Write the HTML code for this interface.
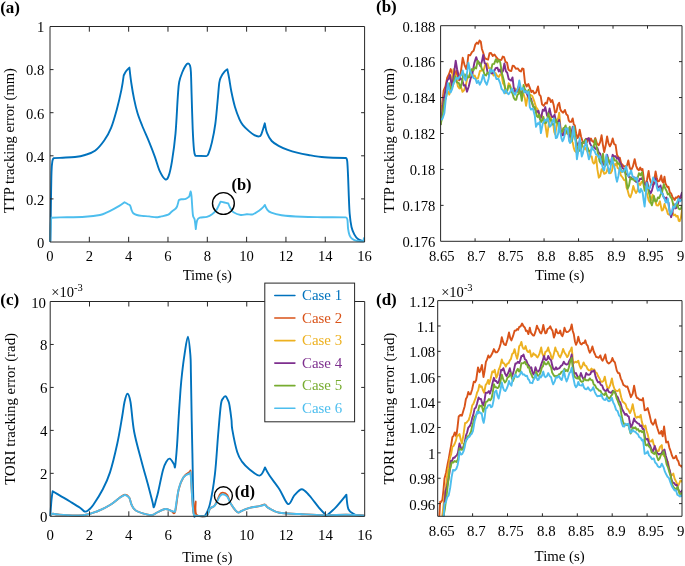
<!DOCTYPE html>
<html><head><meta charset="utf-8"><style>html,body{margin:0;padding:0;background:#fff;overflow:hidden}svg{display:block;will-change:transform}</style></head><body>
<svg width="685" height="566" viewBox="0 0 685 566" style="font-family:'Liberation Serif',serif">
<rect width="685" height="566" fill="#fff"/>
<path d="M50.4 241.6 C50.4 241.6 50.72 216.6 50.9 205 C51.08 193.4 51.25 179.33 51.5 172 C51.75 164.67 52.02 163.32 52.4 161 C52.78 158.68 53.8 158.1 53.8 158.1 C53.8 158.1 59.17 157.88 62.7 157.7 C66.23 157.52 71.28 157.45 75 157 C78.72 156.55 81.67 156.03 85 155 C88.33 153.97 91.8 153.22 95 150.8 C98.2 148.38 101.52 144.33 104.2 140.5 C106.88 136.67 109 132.98 111.1 127.8 C113.2 122.62 115.08 115.72 116.8 109.4 C118.52 103.08 120.25 95.55 121.4 89.9 C122.55 84.25 123.7 75.5 123.7 75.5 C123.7 75.5 125.05 72.52 126 71.2 C126.95 69.88 129.4 67.6 129.4 67.6 C129.4 67.6 130.52 77.75 131.3 83 C132.08 88.25 133.07 94.1 134.1 99.1 C135.13 104.1 136.17 108.6 137.5 113 C138.83 117.4 140.18 120.73 142.1 125.5 C144.02 130.27 146.88 136.42 149 141.6 C151.12 146.78 153.07 151.82 154.8 156.6 C156.53 161.38 157.68 166.53 159.4 170.3 C161.12 174.07 163.57 178.23 165.1 179.2 C166.63 180.17 167.45 179.12 168.6 176.1 C169.75 173.08 170.85 168.18 172 161.1 C173.15 154.02 174.53 144.32 175.5 133.6 C176.47 122.88 177.18 105.4 177.8 96.8 C178.42 88.2 178.43 86.13 179.2 82 C179.97 77.87 181.3 74.77 182.4 72 C183.5 69.23 184.85 66.82 185.8 65.4 C186.75 63.98 187.4 63.48 188.1 63.5 C188.8 63.52 189.53 64.08 190 65.5 C190.47 66.92 190.63 67.17 190.9 72 C191.17 76.83 191.3 85 191.6 94.5 C191.9 104 192.3 119.75 192.7 129 C193.1 138.25 193.57 145.53 194 150 C194.43 154.47 195.3 155.8 195.3 155.8 C195.3 155.8 206.3 156.1 206.3 156.1 C206.3 156.1 207.47 156.18 208.4 153.9 C209.33 151.62 210.75 147.38 211.9 142.4 C213.05 137.42 214.35 130.9 215.3 124 C216.25 117.1 216.93 107.9 217.6 101 C218.27 94.1 218.72 86.63 219.3 82.6 C219.88 78.57 220.23 78.63 221.1 76.8 C221.97 74.97 223.47 72.85 224.5 71.6 C225.53 70.35 227.3 69.3 227.3 69.3 C227.3 69.3 228.42 74.25 229.1 78 C229.78 81.75 230.43 87.02 231.4 91.8 C232.37 96.58 233.55 102.1 234.9 106.7 C236.25 111.3 238.17 116.33 239.5 119.4 C240.83 122.47 241.37 123.18 242.9 125.1 C244.43 127.02 246.78 129.22 248.7 130.9 C250.62 132.58 252.68 134.28 254.4 135.2 C256.12 136.12 257.85 136.55 259 136.4 C260.15 136.25 260.33 136.48 261.3 134.3 C262.27 132.12 264.8 123.3 264.8 123.3 C264.8 123.3 265.95 130.25 267.1 133.2 C268.25 136.15 269.78 138.9 271.7 141 C273.62 143.1 275.92 144.32 278.6 145.8 C281.28 147.28 284.73 148.75 287.8 149.9 C290.87 151.05 293.57 151.85 297 152.7 C300.43 153.55 303.82 154.23 308.4 155 C312.98 155.77 318.25 156.8 324.5 157.3 C330.75 157.8 345.9 158 345.9 158 C345.9 158 346.83 157.83 347.2 161 C347.57 164.17 347.83 171.17 348.1 177 C348.37 182.83 348.53 189.83 348.8 196 C349.07 202.17 349.25 208.83 349.7 214 C350.15 219.17 350.73 223.6 351.5 227 C352.27 230.4 353.22 232.38 354.3 234.4 C355.38 236.42 356.62 238.02 358 239.1 C359.38 240.18 361.5 240.53 362.6 240.9 C363.7 241.27 364.6 241.3 364.6 241.3" fill="none" stroke="#0072BD" stroke-width="1.9" stroke-linejoin="round"/>
<path d="M50.1 241.6 C50.1 241.6 50.4 229.98 50.6 226 C50.8 222.02 51.3 217.7 51.3 217.7 C51.3 217.7 54.38 217.57 60 217.4 C65.62 217.23 78.33 217.1 85 216.7 C91.67 216.3 96.33 215.72 100 215 C103.67 214.28 104.67 213.42 107 212.4 C109.33 211.38 111.95 209.98 114 208.9 C116.05 207.82 117.55 207.02 119.3 205.9 C121.05 204.78 124.5 202.2 124.5 202.2 C124.5 202.2 127.07 203.67 128 204.2 C128.93 204.73 129.52 204.47 130.1 205.4 C130.68 206.33 130.97 208.48 131.5 209.8 C132.03 211.12 132.42 212.43 133.3 213.3 C134.18 214.17 135.35 214.57 136.8 215 C138.25 215.43 139.95 215.67 142 215.9 C144.05 216.13 146.75 216.17 149.1 216.4 C151.45 216.63 154.07 217.3 156.1 217.3 C158.13 217.3 159.27 216.83 161.3 216.4 C163.33 215.97 166.55 215.52 168.3 214.7 C170.05 213.88 170.63 212.47 171.8 211.5 C172.97 210.53 174.42 209.77 175.3 208.9 C176.18 208.03 176.52 207.77 177.1 206.3 C177.68 204.83 178.8 200.1 178.8 200.1 C178.8 200.1 180.33 199.5 181.5 199.3 C182.67 199.1 184.5 199.35 185.8 198.9 C187.1 198.45 189.3 196.6 189.3 196.6 C189.3 196.6 190.6 191.4 190.6 191.4 C190.6 191.4 191.12 192.07 191.5 196 C191.88 199.93 192.38 211.1 192.9 215 C193.42 218.9 194.12 217.05 194.6 219.4 C195.08 221.75 195.8 229.1 195.8 229.1 C195.8 229.1 196.52 222.2 197.2 220.3 C197.88 218.4 198.28 218.28 199.9 217.7 C201.52 217.12 204.87 217.38 206.9 216.8 C208.93 216.22 210.5 215.37 212.1 214.2 C213.7 213.03 215.48 211.07 216.5 209.8 C217.52 208.53 217.52 207.97 218.2 206.6 C218.88 205.23 220.6 201.6 220.6 201.6 C220.6 201.6 223.02 202.18 224.3 202.5 C225.58 202.82 228.3 203.5 228.3 203.5 C228.3 203.5 229.53 206.73 230.4 208.2 C231.27 209.67 231.78 211.17 233.5 212.3 C235.22 213.43 238.48 214.67 240.7 215 C242.92 215.33 244.77 214.42 246.8 214.3 C248.83 214.18 250.87 214.9 252.9 214.3 C254.93 213.7 257.37 211.82 259 210.7 C260.63 209.58 261.73 208.57 262.7 207.6 C263.67 206.63 264.8 204.9 264.8 204.9 C264.8 204.9 266.12 208.3 267.2 209.6 C268.28 210.9 268.92 211.77 271.3 212.7 C273.68 213.63 276.38 214.52 281.5 215.2 C286.62 215.88 295.18 216.47 302 216.8 C308.82 217.13 315.08 217.1 322.4 217.2 C329.72 217.3 345.9 217.4 345.9 217.4 C345.9 217.4 347.03 217.68 347.4 219.6 C347.77 221.52 347.73 226.27 348.1 228.9 C348.47 231.53 348.88 233.7 349.6 235.4 C350.32 237.1 351.17 238.18 352.4 239.1 C353.63 240.02 355.18 240.55 357 240.9 C358.82 241.25 363.3 241.2 363.3 241.2 C363.3 241.2 364.1 237.5 364.1 237.5" fill="none" stroke="#4DBEEE" stroke-width="1.9" stroke-linejoin="round"/>
<path d="M50 26.5 H364.6 V242 H50 Z" fill="none" stroke="#262626" stroke-width="1"/>
<path d="M89.33 242 v-5.2 M89.33 26.5 v5.2 M128.65 242 v-5.2 M128.65 26.5 v5.2 M167.98 242 v-5.2 M167.98 26.5 v5.2 M207.3 242 v-5.2 M207.3 26.5 v5.2 M246.62 242 v-5.2 M246.62 26.5 v5.2 M285.95 242 v-5.2 M285.95 26.5 v5.2 M325.28 242 v-5.2 M325.28 26.5 v5.2 M50 198.9 h3.5 M364.6 198.9 h-3.5 M50 155.8 h3.5 M364.6 155.8 h-3.5 M50 112.7 h3.5 M364.6 112.7 h-3.5 M50 69.6 h3.5 M364.6 69.6 h-3.5" stroke="#262626" stroke-width="1" fill="none"/>
<text x="50" y="260.7" font-size="14.6" text-anchor="middle" fill="#000">0</text>
<text x="89.33" y="260.7" font-size="14.6" text-anchor="middle" fill="#000">2</text>
<text x="128.65" y="260.7" font-size="14.6" text-anchor="middle" fill="#000">4</text>
<text x="167.98" y="260.7" font-size="14.6" text-anchor="middle" fill="#000">6</text>
<text x="207.3" y="260.7" font-size="14.6" text-anchor="middle" fill="#000">8</text>
<text x="246.62" y="260.7" font-size="14.6" text-anchor="middle" fill="#000">10</text>
<text x="285.95" y="260.7" font-size="14.6" text-anchor="middle" fill="#000">12</text>
<text x="325.28" y="260.7" font-size="14.6" text-anchor="middle" fill="#000">14</text>
<text x="364.6" y="260.7" font-size="14.6" text-anchor="middle" fill="#000">16</text>
<text x="44.3" y="247.8" font-size="14.6" text-anchor="end" fill="#000">0</text>
<text x="44.3" y="204.7" font-size="14.6" text-anchor="end" fill="#000">0.2</text>
<text x="44.3" y="161.6" font-size="14.6" text-anchor="end" fill="#000">0.4</text>
<text x="44.3" y="118.5" font-size="14.6" text-anchor="end" fill="#000">0.6</text>
<text x="44.3" y="75.4" font-size="14.6" text-anchor="end" fill="#000">0.8</text>
<text x="44.3" y="32.3" font-size="14.6" text-anchor="end" fill="#000">1</text>
<text x="207.3" y="279.5" font-size="14.6" text-anchor="middle" fill="#000">Time (s)</text>
<text x="0" y="0" font-size="14.6" text-anchor="middle" fill="#000" transform="translate(14.3 140.5) rotate(-90)">TTP tracking error (mm)</text>
<text x="0.2" y="12.6" font-size="17" text-anchor="start" font-weight="bold" fill="#000">(a)</text>
<circle cx="223.4" cy="203.5" r="10.9" fill="none" stroke="#000" stroke-width="1.4"/>
<text x="231.4" y="189.6" font-size="16.5" text-anchor="start" font-weight="bold" fill="#000">(b)</text>
<clipPath id="cb"><rect x="440.6" y="25.7" width="241.39999999999998" height="215.60000000000002"/></clipPath>
<g clip-path="url(#cb)" fill="none" stroke-width="1.9" stroke-linejoin="round">
<path d="M440.6 114 L442.15 104.67 L443.7 90.3 L445.45 86.46 L447.2 77.6 L448.95 74.23 L450.7 69.1 L452.1 72.88 L453.5 74.8 L454.95 74.95 L456.4 70.5 L457.8 77.57 L459.2 80.4 L460.95 71.1 L462.7 57.8 L464.5 64.79 L466.3 69.1 L467.35 63.93 L468.4 55 L470.2 55.38 L472 52 L473.63 50.7 L475.27 44.67 L476.9 42.6 L478.2 43.86 L479.5 40.5 L480.8 41.7 L481.9 48.95 L483 52 L484.8 58.19 L486.6 59.2 L488.07 59.64 L489.53 53.3 L491 53 L492.77 55.99 L494.53 54.53 L496.3 57.2 L498.15 59.45 L500 60 L501.37 59.9 L502.73 56.51 L504.1 57.2 L505.55 61.96 L507 62.53 L508.45 69.8 L509.9 70.8 L511.27 70.94 L512.63 65.8 L514 66 L515.87 68.81 L517.73 68.38 L519.6 70.8 L520.9 71.51 L522.2 68.44 L523.5 68.8 L525 83 L526.67 86.48 L528.33 83.94 L530 88.3 L531.43 92.04 L532.87 90.66 L534.3 93.5 L536.15 92.41 L538 86.5 L539.33 94.63 L540.67 96.18 L542 104.2 L543.75 105.88 L545.5 102.7 L546.87 103.5 L548.23 97.75 L549.6 98.6 L550.93 102.06 L552.27 100.1 L553.6 104.7 L555 112.7 L556.4 111.93 L557.8 105.03 L559.2 102.8 L560.3 109.2 L561.4 111.3 L563.15 112.68 L564.9 109.9 L566.3 114.32 L567.7 115.5 L568.75 120.45 L569.8 121.9 L571.25 121.82 L572.7 118.4 L573.75 124.36 L574.8 125.4 L576.2 133.44 L577.6 138.1 L578.65 136.19 L579.7 129.7 L581.1 136.77 L582.5 141 L584.3 143.39 L586.1 141 L587.15 142.07 L588.2 138.3 L589.57 140.92 L590.93 138.49 L592.3 141.3 L593.8 142.16 L595.3 138.1 L597.05 143.75 L598.8 145.2 L600.2 141.92 L601.6 135.3 L602.9 144.83 L604.2 152 L605.65 145.57 L607.1 136.4 L608.5 143.4 L609.9 146.3 L611.3 143.48 L612.7 138.5 L614.15 144.13 L615.6 144.9 L617 154.8 L618.4 157.47 L619.8 157.6 L621.2 163.59 L622.6 164.7 L624.05 166.74 L625.5 166.1 L626.9 165.82 L628.3 160.5 L629.7 167.52 L631.1 170.4 L632.9 166.45 L634.7 159.1 L636.1 165.77 L637.5 169 L638.9 170.22 L640.3 167.5 L641.4 170.1 L642.5 169 L643.9 179.25 L645.3 186.8 L646.95 180.01 L648.6 170.9 L649.6 177.91 L650.6 181.5 L651.9 184.63 L653.2 182.8 L654.4 179.06 L655.6 171.5 L656.75 177.42 L657.9 181.5 L659.55 180.77 L661.2 175.5 L662.2 181.25 L663.2 182.8 L664.5 176.8 L665.5 183.53 L666.5 185.4 L667.5 187.23 L668.5 186.8 L669.8 192.24 L671.1 193.4 L672.4 196.94 L673.7 198.7 L674.7 200.02 L675.7 197.4 L677.05 197.98 L678.4 196 L680.25 197.89 L682.1 197.4" stroke="#D95319"/>
<path d="M440.6 118 L442.1 109.98 L443.6 97.76 L445.1 90.3 L446.5 93.19 L447.9 91.29 L449.3 94.6 L450.7 88.02 L452.1 76.7 L453.5 69.1 L454.93 75.57 L456.37 78.13 L457.8 86.1 L459.38 88.4 L460.95 86.99 L462.53 91.84 L464.1 90.3 L465.9 84.89 L467.7 76.2 L469.1 77.1 L470.5 71.75 L471.9 72 L473.33 76.28 L474.77 75.61 L476.2 79 L478.07 78.1 L479.93 70.97 L481.8 70.5 L483.7 69.9 L485.6 63.7 L487.5 63.5 L488.9 68.34 L490.3 68.27 L491.7 72 L493.6 75.56 L495.5 72.94 L497.4 76.2 L498.8 77.06 L500.2 74.43 L501.6 74.8 L503 83.29 L504.4 85.43 L505.8 93.2 L507.25 90.34 L508.7 83.3 L510 84.9 L511.25 90.03 L512.5 90.4 L514.05 91.58 L515.6 88.6 L517.4 92.3 L518.65 92.26 L519.9 87.3 L521.45 91.3 L523 92.3 L524.9 98.5 L526.1 105.9 L527.9 94.8 L529.15 97.04 L530.4 94.8 L532.3 96 L534.1 100.9 L536 107.1 L537.8 109.6 L538.75 115.54 L539.7 118.3 L541.6 114.6 L543.4 118.3 L545.3 124.5 L547.1 136.8 L549 122 L550.8 117 L552.05 123.23 L553.3 124.5 L554.25 131.83 L555.2 134.4 L557.1 122.6 L558.15 118.61 L559.2 112.7 L560.3 125.03 L561.4 135.3 L562.45 132.92 L563.5 128.2 L564.55 133.59 L565.6 133.9 L567 132.62 L568.4 128.2 L569.8 136.52 L571.2 141 L572.7 142.4 L573.75 147.93 L574.8 150.8 L576.55 152.5 L578.3 150.8 L579.7 148.08 L581.1 142.4 L582.15 145.92 L583.2 146.6 L584.3 149.14 L585.4 148 L587.15 151.24 L588.9 150.8 L590.3 156.08 L591.7 156.5 L592.75 162.07 L593.8 163.6 L594.9 162.52 L596 156.5 L597.4 169.44 L598.8 177.7 L600.2 176.03 L601.6 169.2 L602.8 170.4 L604.25 173.8 L605.7 173.2 L606.75 171.43 L607.8 167.5 L609.2 172.7 L610.6 173.2 L612 170.79 L613.4 163.3 L614.85 165.73 L616.3 163.3 L617.7 167.97 L619.1 169 L620.85 175.33 L622.6 177.5 L624.05 180.06 L625.5 180.3 L626.55 187.54 L627.6 190.2 L629 195.57 L630.4 197.3 L631.85 192.95 L633.3 186 L634.7 190.4 L636.1 193 L637.5 190.38 L638.9 183.1 L640.3 184.98 L641.7 181.7 L642.85 182.54 L644 181.5 L645.65 190.34 L647.3 194.7 L648.6 200.18 L649.9 202.6 L651.25 199.7 L652.6 194.7 L653.6 198.01 L654.6 198.7 L656.5 205.3 L658.2 205.48 L659.9 201.3 L661.8 210.6 L663.15 209.67 L664.5 204 L665.5 207.51 L666.5 209.3 L667.8 213.85 L669.1 214.6 L670.75 214.11 L672.4 211.9 L673.75 215.34 L675.1 214.6 L676.4 216.63 L677.7 215.9 L678.7 220.93 L679.7 221.2 L680.9 217.81 L682.1 209.3" stroke="#EDB120"/>
<path d="M440.6 125 L442.15 113.11 L443.7 98.8 L445.45 90.57 L447.2 80.4 L448.6 79.1 L450 74.8 L451.05 81.51 L452.1 86.1 L453.9 74.3 L455.7 60.7 L457.1 69.26 L458.5 74.8 L460.25 79.35 L462 79 L463.67 85.47 L465.33 85.29 L467 91.7 L468.75 86.53 L470.5 79 L472.4 73.46 L474.3 63.12 L476.2 57.1 L477.6 61.26 L479 62.26 L480.4 66.3 L481.8 61.82 L483.2 55 L484.63 63.13 L486.07 64.04 L487.5 72 L488.9 74.71 L490.3 70.7 L491.7 73.4 L493.6 72.63 L495.5 68.26 L497.4 67.7 L498.8 71.52 L500.2 69.39 L501.6 73.4 L503 70.79 L504.4 63.5 L505.83 71.05 L507.27 72.9 L508.7 79 L510 79.9 L511.25 80.53 L512.5 77.4 L513.7 87.3 L515.6 92.3 L517.15 91.2 L518.7 86.1 L519.9 91.5 L521.1 93.5 L522.35 92.15 L523.6 88.6 L525.5 91 L527.3 94.8 L529.15 98.29 L531 98.5 L532.9 105.9 L534.8 108.4 L536.6 112.1 L538.5 110.8 L540.3 119.5 L541.55 115.49 L542.8 109.6 L544.05 110.83 L545.3 107.1 L547.1 115.8 L548.35 114.46 L549.6 108.4 L550.85 114.48 L552.1 117 L553.35 117.13 L554.6 114.6 L555.8 120.73 L557 122 L558.1 122.72 L559.2 119.8 L560.65 129.94 L562.1 135.3 L563.5 134.82 L564.9 129.7 L566.3 131.41 L567.7 129.7 L568.75 134.73 L569.8 136.7 L571.25 133.62 L572.7 126.8 L574.1 134.01 L575.5 138.1 L576.55 142.72 L577.6 145.2 L578.65 144.44 L579.7 141 L581.45 143.96 L583.2 142.4 L584.65 141.46 L586.1 138.8 L587.5 139.31 L588.9 138.1 L589.95 143.57 L591 145.2 L592.4 147.19 L593.8 146.6 L595.6 149.05 L597.4 148 L598.8 152.49 L600.2 153.7 L601.85 160.6 L603.5 164.7 L605.3 162.35 L607.1 154.8 L608.5 160.19 L609.9 163.3 L611.3 160.58 L612.7 154.8 L614.15 156.65 L615.6 156.2 L617 158.83 L618.4 157.6 L619.8 162.43 L621.2 164.7 L622.65 168.28 L624.1 169 L625.85 173.94 L627.6 174.6 L629.35 177.41 L631.1 177.5 L632.9 179.3 L634.7 177.5 L636.1 182.03 L637.5 181.7 L638.75 181.21 L640 178.8 L641.3 179.04 L642.6 177.5 L643.6 182 L644.6 184.1 L645.95 185.27 L647.3 182.1 L648.95 189.65 L650.6 193.4 L651.9 190.61 L653.2 185.4 L654.4 183.18 L655.6 178.2 L656.75 183.6 L657.9 186.8 L659.2 187.72 L660.5 185.4 L661.85 191.56 L663.2 196 L664.85 198.75 L666.5 197.4 L667.5 202.41 L668.5 202.6 L669.8 212.42 L671.1 217.2 L672.4 212.72 L673.7 204 L675.05 208.48 L676.4 207.9 L677.7 204.76 L679 200 L680.55 197.31 L682.1 192" stroke="#7E2F8E"/>
<path d="M440.6 125 L442.5 115.21 L444.4 101.6 L446.03 97.63 L447.67 87.17 L449.3 83.3 L450.35 88.6 L451.4 88.9 L453.2 84.68 L455 76.2 L456.87 82.43 L458.73 82.9 L460.6 87.5 L462 82.08 L463.4 73.4 L464.83 77.3 L466.27 74.24 L467.7 77.6 L469.1 77.19 L470.5 70.95 L471.9 69.1 L473.33 70.5 L474.77 67.4 L476.2 68.4 L477.6 60.7 L479 63.87 L480.4 63.5 L481.8 69.09 L483.2 70.23 L484.6 74.8 L486.03 75.51 L487.47 72.58 L488.9 73.4 L490.65 72.3 L492.4 64.13 L494.15 63.82 L495.9 59.2 L497.33 62.4 L498.77 60.1 L500.2 62.1 L502.07 73.87 L503.93 80.82 L505.8 91.7 L507.2 90.62 L508.6 85.6 L510 86.1 L511.25 90.96 L512.5 93.5 L513.75 97.77 L515 99.7 L516.2 99.82 L517.4 94.8 L518.65 94.07 L519.9 88.6 L521.8 100.9 L523.6 84.9 L524.85 89.26 L526.1 91 L527.35 92.93 L528.6 89.8 L530.4 99.7 L532.3 103.4 L533.55 107.01 L534.8 107.1 L536.6 115.8 L537.85 117.21 L539.1 114.6 L540.9 122 L542.15 120.65 L543.4 117 L544.65 122.59 L545.9 123.2 L547.15 120.29 L548.4 113.3 L549.6 118.94 L550.8 119.5 L552.05 124.41 L553.3 124.5 L554.55 123.32 L555.8 119.5 L556.8 122.49 L557.8 122.6 L559.2 128.63 L560.6 132.5 L562.05 131.4 L563.5 128.2 L564.55 127.7 L565.6 125.4 L566.65 130.98 L567.7 133.9 L568.75 132.23 L569.8 126.8 L570.9 134.69 L572 141 L573.05 135.91 L574.1 126.8 L575.5 138.09 L576.9 146.6 L578.3 150.04 L579.7 150.8 L581.1 148.87 L582.5 142.4 L583.95 142.6 L585.4 139.5 L587.15 146.5 L588.9 150.8 L590.65 151.06 L592.4 148 L593.85 145.81 L595.3 139.5 L596.7 147.48 L598.1 153.7 L599.5 161.2 L600.9 163.6 L601.95 159.47 L603 153.7 L604 162.04 L605 166.1 L606.4 164.17 L607.8 157.6 L609.2 161.96 L610.6 164.7 L612 163.36 L613.4 157.6 L614.85 160.5 L616.3 160.5 L617.7 163.73 L619.1 163.3 L620.5 168.35 L621.9 171.8 L623.35 171.27 L624.8 169 L626.2 180.01 L627.6 188.8 L629 185.67 L630.4 177.5 L631.85 179.34 L633.3 178.9 L634.7 181.06 L636.1 178.9 L637.5 178.52 L638.9 173.2 L640.45 175.19 L642 172.2 L643.3 182.86 L644.6 190.7 L645.95 188.83 L647.3 184.1 L648.6 191.78 L649.9 196 L650.9 202.84 L651.9 205.3 L652.9 201.63 L653.9 196 L655.2 201.3 L656.55 201.49 L657.9 197.4 L659.2 198.28 L660.5 194.7 L662.15 191.74 L663.8 184.1 L665.15 188.25 L666.5 190.7 L667.8 194.55 L669.1 193.4 L670.45 197 L671.8 198.7 L673.1 204.05 L674.4 206.6 L675.75 206.49 L677.1 202.6 L678.4 208.4 L679.7 209.3 L680.9 208.7 L682.1 205.3" stroke="#77AC30"/>
<path d="M440.6 120 L442.5 118.72 L444.4 113 L445.8 98.8 L446.85 93.33 L447.9 83.3 L449.3 89.56 L450.7 92.5 L452.1 89.16 L453.5 83.3 L454.95 81.23 L456.4 77.6 L458.15 78.89 L459.9 76.2 L461.3 74.99 L462.7 70.5 L464.15 77.61 L465.6 80.4 L467 73.06 L468.4 62.8 L470.15 70.98 L471.9 74.8 L473.7 78.18 L475.5 79 L476.9 83.14 L478.3 80.69 L479.7 84.7 L481.45 81.28 L483.2 74.8 L485 81.51 L486.8 84.7 L488.55 78.92 L490.3 69.1 L491.7 71.66 L493.1 70.18 L494.5 73.4 L496.4 78.95 L498.3 78.74 L500.2 83.3 L501.6 89.04 L503 90.3 L504.43 93.29 L505.87 89.92 L507.3 93.2 L508.65 94.14 L510 92.3 L511.9 88.6 L513.45 92.65 L515 94.8 L516.8 91 L518.05 87.99 L519.3 80.5 L521.1 89.8 L523 87.9 L524.2 92.3 L526.1 91 L527.35 93.59 L528.6 91.7 L529.8 107.1 L531 109.6 L532.9 108.4 L534.8 115.8 L536 126.9 L537.8 123.2 L538.75 124.19 L539.7 122 L540.9 133.1 L542.8 123.2 L543.75 122.3 L544.7 119.5 L546.5 120.7 L547.7 118.3 L549.6 126.9 L550.85 125.59 L552.1 122 L553.9 118.3 L555.8 138.1 L557.05 137.54 L558.3 133.1 L559.2 122.6 L560.3 131.66 L561.4 138.1 L562.45 141.31 L563.5 139.5 L564.55 135.7 L565.6 128.2 L566.65 129.35 L567.7 128.2 L569.1 141 L570.15 142.97 L571.2 141 L572.3 135.34 L573.4 126.8 L574.45 136.38 L575.5 141 L576.9 159.3 L578.3 151.14 L579.7 138.1 L580.75 149.02 L581.8 156.5 L582.9 153.5 L584 146.6 L585.05 145.85 L586.1 141 L587.5 152.4 L588.9 159.3 L590.3 155.51 L591.7 146.6 L593.1 149.53 L594.5 150.8 L595.95 154.39 L597.4 155.1 L598.7 157.53 L600 156.2 L601.05 161.78 L602.1 164.7 L603.15 169.4 L604.2 170.4 L605.3 163.54 L606.4 154.8 L607.8 166.38 L609.2 173.2 L610.6 167.14 L612 157.6 L613.45 164.29 L614.9 169 L615.95 177.34 L617 181.7 L618.4 175.95 L619.8 167.5 L621.2 170.79 L622.6 171.8 L624.4 170.61 L626.2 166.1 L627.25 172.08 L628.3 176 L629.7 174.36 L631.1 170.4 L632.55 176.31 L634 177.5 L635.4 179.55 L636.8 177.5 L637.85 185.35 L638.9 191.6 L639.95 192.4 L641 188.8 L642.6 192.1 L643.6 200.16 L644.6 206.6 L645.6 196.09 L646.6 182.8 L647.6 187.88 L648.6 188.1 L649.6 188.66 L650.6 185.4 L651.9 182.79 L653.2 177.5 L654.55 180.97 L655.9 181.5 L656.9 187.59 L657.9 190.7 L658.9 190.41 L659.9 188.1 L661.2 193.35 L662.5 193.4 L663.5 196.93 L664.5 198.7 L665.8 202.6 L666.8 202.2 L667.8 198.7 L669.1 208.79 L670.4 214.6 L671.75 212.1 L673.1 206.6 L674.4 207.87 L675.7 204 L677.05 202.58 L678.4 198.7 L680.25 201.26 L682.1 198.7" stroke="#4DBEEE"/>
</g>
<path d="M440.6 25.7 H682 V241.3 H440.6 Z" fill="none" stroke="#262626" stroke-width="1"/>
<path d="M475.09 241.3 v-3 M475.09 25.7 v3 M509.57 241.3 v-3 M509.57 25.7 v3 M544.06 241.3 v-3 M544.06 25.7 v3 M578.54 241.3 v-3 M578.54 25.7 v3 M613.03 241.3 v-3 M613.03 25.7 v3 M647.51 241.3 v-3 M647.51 25.7 v3 M440.6 205.37 h3 M682 205.37 h-3 M440.6 169.43 h3 M682 169.43 h-3 M440.6 133.5 h3 M682 133.5 h-3 M440.6 97.57 h3 M682 97.57 h-3 M440.6 61.63 h3 M682 61.63 h-3" stroke="#262626" stroke-width="1" fill="none"/>
<text x="441.8" y="260.7" font-size="14.6" text-anchor="middle" fill="#000">8.65</text>
<text x="476.35" y="260.7" font-size="14.6" text-anchor="middle" fill="#000">8.7</text>
<text x="510.75" y="260.7" font-size="14.6" text-anchor="middle" fill="#000">8.75</text>
<text x="546.35" y="260.7" font-size="14.6" text-anchor="middle" fill="#000">8.8</text>
<text x="581.1" y="260.7" font-size="14.6" text-anchor="middle" fill="#000">8.85</text>
<text x="616.4" y="260.7" font-size="14.6" text-anchor="middle" fill="#000">8.9</text>
<text x="650.9" y="260.7" font-size="14.6" text-anchor="middle" fill="#000">8.95</text>
<text x="680.6" y="260.7" font-size="14.6" text-anchor="middle" fill="#000">9</text>
<text x="435.3" y="247.1" font-size="14.6" text-anchor="end" fill="#000">0.176</text>
<text x="435.3" y="211.17" font-size="14.6" text-anchor="end" fill="#000">0.178</text>
<text x="435.3" y="175.23" font-size="14.6" text-anchor="end" fill="#000">0.18</text>
<text x="435.3" y="139.3" font-size="14.6" text-anchor="end" fill="#000">0.182</text>
<text x="435.3" y="103.37" font-size="14.6" text-anchor="end" fill="#000">0.184</text>
<text x="435.3" y="67.43" font-size="14.6" text-anchor="end" fill="#000">0.186</text>
<text x="435.3" y="31.5" font-size="14.6" text-anchor="end" fill="#000">0.188</text>
<text x="559.7" y="279.7" font-size="14.6" text-anchor="middle" fill="#000">Time (s)</text>
<text x="0" y="0" font-size="14.6" text-anchor="middle" fill="#000" transform="translate(393.9 140.5) rotate(-90)">TTP tracking error (mm)</text>
<text x="376" y="12.4" font-size="17" text-anchor="start" font-weight="bold" fill="#000">(b)</text>
<path d="M50.3 516 C50.3 516 51.1 504.13 51.5 500 C51.9 495.87 52.7 491.2 52.7 491.2 C52.7 491.2 57.12 493.88 60 495.6 C62.88 497.32 66.67 499.48 70 501.5 C73.33 503.52 77.55 506.03 80 507.7 C82.45 509.37 83.37 511.03 84.7 511.5 C86.03 511.97 86.58 511.58 88 510.5 C89.42 509.42 90.73 508.53 93.2 505 C95.67 501.47 100 494.73 102.8 489.3 C105.6 483.87 107.58 480.03 110 472.4 C112.42 464.77 115.28 452.73 117.3 443.5 C119.32 434.27 120.9 423.92 122.1 417 C123.3 410.08 123.62 405.88 124.5 402 C125.38 398.12 126.4 393.7 127.4 393.7 C128.4 393.7 129.38 395.7 130.5 402 C131.62 408.3 132.3 421.77 134.1 431.5 C135.9 441.23 138.88 451.17 141.3 460.4 C143.72 469.63 146.73 479.97 148.6 486.9 C150.47 493.83 151.62 498.62 152.5 502 C153.38 505.38 153.32 507.53 153.9 507.2 C154.48 506.87 155.28 502.58 156 500 C156.72 497.42 157.03 496.7 158.2 491.7 C159.37 486.7 161.62 475.03 163 470 C164.38 464.97 165.37 463.38 166.5 461.5 C167.63 459.62 168.57 458.28 169.8 458.7 C171.03 459.12 173.02 462.7 173.9 464 C174.78 465.3 174.58 469.5 175.1 466.5 C175.62 463.5 176.4 454.25 177 446 C177.6 437.75 178.12 426.33 178.7 417 C179.28 407.67 179.93 397.33 180.5 390 C181.07 382.67 181.45 378.78 182.1 373 C182.75 367.22 183.43 361.33 184.4 355.3 C185.37 349.27 186.9 336.8 187.9 336.8 C188.9 336.8 189.9 349.27 190.4 355.3 C190.9 361.33 190.68 362.22 190.9 373 C191.12 383.78 191.45 406.63 191.7 420 C191.95 433.37 192.08 438.2 192.4 453.2 C192.72 468.2 193.17 499.55 193.6 510 C194.03 520.45 195 515.9 195 515.9 C195 515.9 205 515.9 205 515.9 C205 515.9 208.25 511.03 209.9 504.1 C211.55 497.17 213.53 485.82 214.9 474.3 C216.27 462.78 217.1 446.6 218.1 435 C219.1 423.4 220.08 410.78 220.9 404.7 C221.72 398.62 222.2 399.9 223 398.5 C223.8 397.1 224.78 395.8 225.7 396.3 C226.62 396.8 227.85 399.88 228.5 401.5 C229.15 403.12 229.1 402.92 229.6 406 C230.1 409.08 231.05 416.07 231.5 420 C231.95 423.93 231.35 424.27 232.3 429.6 C233.25 434.93 235.55 446.62 237.2 452 C238.85 457.38 240.13 459 242.2 461.9 C244.27 464.8 246.7 467.12 249.6 469.4 C252.5 471.68 257.03 475.93 259.6 475.6 C262.17 475.27 265 467.4 265 467.4 C265 467.4 267.1 471.97 269.5 475.6 C271.9 479.23 276.3 484.45 279.4 489.2 C282.5 493.95 285.62 503.07 288.1 504.1 C290.58 505.13 292.02 497.88 294.3 495.4 C296.58 492.92 299.32 489.2 301.8 489.2 C304.28 489.2 306.32 492.3 309.2 495.4 C312.08 498.5 316.2 504.4 319.1 507.8 C322 511.2 326.6 515.8 326.6 515.8 C326.6 515.8 333.2 510.12 336.5 506.6 C339.8 503.08 346.4 494.7 346.4 494.7 C346.4 494.7 347.15 505.88 348.4 509.1 C349.65 512.32 352.3 512.97 353.9 514 C355.5 515.03 356.23 515 358 515.3 C359.77 515.6 364.5 515.8 364.5 515.8" fill="none" stroke="#0072BD" stroke-width="1.9" stroke-linejoin="round"/>
<path d="M50.3 516 C50.3 516 51.03 514.57 51.5 514.2 C51.97 513.83 51.77 513.73 53.1 513.8 C54.43 513.87 54.43 514.35 59.5 514.6 C64.57 514.85 77.08 515.9 83.5 515.3 C89.92 514.7 93.58 512.72 98 511 C102.42 509.28 106.38 507.22 110 505 C113.62 502.78 117.2 499.4 119.7 497.7 C122.2 496 123.4 494.8 125 494.8 C126.6 494.8 128.18 496 129.3 497.7 C130.42 499.4 130.5 502.78 131.7 505 C132.9 507.22 133.28 509.32 136.5 511 C139.72 512.68 147.42 514.93 151 515.1 C154.58 515.27 155.6 513.02 158 512 C160.4 510.98 163.17 509.17 165.4 509 C167.63 508.83 169.78 510.55 171.4 511 C173.02 511.45 173.88 515.32 175.1 511.7 C176.32 508.08 177.3 495.03 178.7 489.3 C180.1 483.57 181.7 480.17 183.5 477.3 C185.3 474.43 188.3 472.77 189.5 472.1 C190.7 471.43 190.22 468.43 190.7 473.3 C191.18 478.17 191.88 494.42 192.4 501.3 C192.92 508.18 193.27 514.57 193.8 514.6 C194.33 514.63 195.18 501.52 195.6 501.5 C196.02 501.48 194.5 512.12 196.3 514.5 C198.1 516.88 204.12 516.78 206.4 515.8 C208.68 514.82 208.58 510.35 210 508.6 C211.42 506.85 213.25 507.63 214.9 505.3 C216.55 502.97 218.58 496.72 219.9 494.6 C221.22 492.48 221.57 492.52 222.8 492.6 C224.03 492.68 225.93 493.18 227.3 495.1 C228.67 497.02 229.3 501.23 231 504.1 C232.7 506.97 235.75 511.15 237.5 512.3 C239.25 513.45 239.48 511.75 241.5 511 C243.52 510.25 246.58 508.62 249.6 507.8 C252.62 506.98 257.03 506.63 259.6 506.1 C262.17 505.57 263.55 504.32 265 504.6 C266.45 504.88 265.9 506.43 268.3 507.8 C270.7 509.17 274.23 511.77 279.4 512.8 C284.57 513.83 291.85 513.58 299.3 514 C306.75 514.42 316.25 515.17 324.1 515.3 C331.95 515.43 339.75 514.72 346.4 514.8 C353.05 514.88 364 515.8 364 515.8" fill="none" stroke="#D95319" stroke-width="1.9" stroke-linejoin="round"/>
<path d="M50.3 516 C50.3 516 51.03 514.57 51.5 514.2 C51.97 513.83 51.77 513.73 53.1 513.8 C54.43 513.87 54.43 514.35 59.5 514.6 C64.57 514.85 77.08 515.9 83.5 515.3 C89.92 514.7 93.58 512.72 98 511 C102.42 509.28 106.38 507.22 110 505 C113.62 502.78 117.2 499.4 119.7 497.7 C122.2 496 125 494.8 125 494.8 C125 494.8 128.18 496 129.3 497.7 C130.42 499.4 130.5 502.78 131.7 505 C132.9 507.22 133.28 509.32 136.5 511 C139.72 512.68 147.42 514.93 151 515.1 C154.58 515.27 155.6 513.02 158 512 C160.4 510.98 163.17 509.17 165.4 509 C167.63 508.83 169.78 510.55 171.4 511 C173.02 511.45 175.1 511.7 175.1 511.7 C175.1 511.7 177.3 495.03 178.7 489.3 C180.1 483.57 181.7 479.92 183.5 477.3 C185.3 474.68 188.3 474.02 189.5 473.6 C190.7 473.18 190.22 470.18 190.7 474.8 C191.18 479.42 191.88 494.67 192.4 501.3 C192.92 507.93 193.37 512.22 193.8 514.6 C194.23 516.98 194.52 515.4 195 515.6 C195.48 515.8 194.8 515.77 196.7 515.8 C198.6 515.83 204.18 517 206.4 515.8 C208.62 514.6 208.58 510.35 210 508.6 C211.42 506.85 213.25 507.37 214.9 505.3 C216.55 503.23 218.58 498.05 219.9 496.2 C221.22 494.35 221.57 494.12 222.8 494.2 C224.03 494.28 225.93 495.05 227.3 496.7 C228.67 498.35 229.3 501.5 231 504.1 C232.7 506.7 235.75 511.15 237.5 512.3 C239.25 513.45 239.48 511.75 241.5 511 C243.52 510.25 246.58 508.62 249.6 507.8 C252.62 506.98 257.03 506.63 259.6 506.1 C262.17 505.57 265 504.6 265 504.6 C265 504.6 265.9 506.43 268.3 507.8 C270.7 509.17 274.23 511.77 279.4 512.8 C284.57 513.83 291.85 513.58 299.3 514 C306.75 514.42 316.25 515.17 324.1 515.3 C331.95 515.43 339.75 514.72 346.4 514.8 C353.05 514.88 364 515.8 364 515.8" fill="none" stroke="#4DBEEE" stroke-width="1.9" stroke-linejoin="round"/>
<path d="M50.2 301.5 H364.7 V516.3 H50.2 Z" fill="none" stroke="#262626" stroke-width="1"/>
<path d="M89.51 516.3 v-5 M89.51 301.5 v5 M128.82 516.3 v-5 M128.82 301.5 v5 M168.14 516.3 v-5 M168.14 301.5 v5 M207.45 516.3 v-5 M207.45 301.5 v5 M246.76 516.3 v-5 M246.76 301.5 v5 M286.07 516.3 v-5 M286.07 301.5 v5 M325.39 516.3 v-5 M325.39 301.5 v5 M50.2 473.34 h3.5 M364.7 473.34 h-3.5 M50.2 430.38 h3.5 M364.7 430.38 h-3.5 M50.2 387.42 h3.5 M364.7 387.42 h-3.5 M50.2 344.46 h3.5 M364.7 344.46 h-3.5" stroke="#262626" stroke-width="1" fill="none"/>
<text x="50.2" y="539.7" font-size="14.85" text-anchor="middle" fill="#000">0</text>
<text x="89.51" y="539.7" font-size="14.85" text-anchor="middle" fill="#000">2</text>
<text x="128.82" y="539.7" font-size="14.85" text-anchor="middle" fill="#000">4</text>
<text x="168.14" y="539.7" font-size="14.85" text-anchor="middle" fill="#000">6</text>
<text x="207.45" y="539.7" font-size="14.85" text-anchor="middle" fill="#000">8</text>
<text x="246.76" y="539.7" font-size="14.85" text-anchor="middle" fill="#000">10</text>
<text x="286.07" y="539.7" font-size="14.85" text-anchor="middle" fill="#000">12</text>
<text x="325.39" y="539.7" font-size="14.85" text-anchor="middle" fill="#000">14</text>
<text x="364.7" y="539.7" font-size="14.85" text-anchor="middle" fill="#000">16</text>
<text x="47.5" y="522.3" font-size="14.85" text-anchor="end" fill="#000">0</text>
<text x="47.5" y="479.34" font-size="14.85" text-anchor="end" fill="#000">2</text>
<text x="47.5" y="436.38" font-size="14.85" text-anchor="end" fill="#000">4</text>
<text x="47.5" y="393.42" font-size="14.85" text-anchor="end" fill="#000">6</text>
<text x="47.5" y="350.46" font-size="14.85" text-anchor="end" fill="#000">8</text>
<text x="46" y="307.5" font-size="14.85" text-anchor="end" fill="#000">10</text>
<text x="207.4" y="561.6" font-size="14.85" text-anchor="middle" fill="#000">Time (s)</text>
<text x="0" y="0" font-size="14.85" text-anchor="middle" fill="#000" transform="translate(14.6 408.9) rotate(-90)">TORI tracking error (rad)</text>
<text x="0.3" y="305" font-size="17" text-anchor="start" font-weight="bold" fill="#000">(c)</text>
<text x="51.3" y="296.6" font-size="14.5">×10<tspan font-size="10.5" dy="-5.8">-3</tspan></text>
<circle cx="223.4" cy="495.8" r="9.0" fill="none" stroke="#000" stroke-width="1.4"/>
<text x="234.8" y="497.1" font-size="16.5" text-anchor="start" font-weight="bold" fill="#000">(d)</text>
<clipPath id="cd"><rect x="437.7" y="300.6" width="244.3" height="215.69999999999993"/></clipPath>
<g clip-path="url(#cd)" fill="none" stroke-width="1.9" stroke-linejoin="round">
<path d="M439.2 519 L440.2 501.8 L441.3 501.84 L442.4 499.6 L443.45 490.37 L444.5 478.4 L446.1 472.38 L447.7 463.6 L448.85 458.22 L450 451.4 L451.2 444.8 L452.4 437.1 L453.6 435.76 L454.8 432.4 L456.3 436.3 L457.5 427.29 L458.7 416.5 L460.3 414.9 L461.9 415.7 L463.5 410.2 L464.7 406.16 L465.9 399 L467.1 396.86 L468.3 391.9 L469.45 394.4 L470.6 394.3 L472.2 389.19 L473.8 381.6 L475 382.17 L476.2 380 L478 367.4 L479.6 372.2 L480.75 369.32 L481.9 365 L483.5 377 L484.7 370.49 L485.9 361.8 L487.1 359.39 L488.3 355.5 L489.5 357.58 L490.7 356.3 L492.3 353.31 L493.9 349.1 L495.5 352.27 L497.1 352.3 L498.3 350.53 L499.5 347.5 L500.65 343.76 L501.8 337.2 L503 341.71 L504.2 344.3 L505.8 345.1 L507.4 339.8 L509 332.4 L510.2 338 L511.4 340.4 L513 336.16 L514.6 330.8 L515.85 330.57 L517.1 329.1 L518.15 329.74 L519.2 327 L520.65 326.43 L522.1 323.5 L523.5 326.25 L524.9 327.7 L525.95 330.93 L527 330.6 L528.4 334.1 L529.8 327.7 L530.9 332.63 L532 334.1 L533.05 335.48 L534.1 335.5 L535.5 331.62 L536.9 325.6 L537.95 328.41 L539 329.8 L540.1 332.53 L541.2 333.4 L542.25 330.47 L543.3 324.9 L544.35 329.9 L545.4 333.4 L546.45 332.67 L547.5 329.1 L548.9 328.3 L550.3 326.3 L551.4 329.21 L552.5 330.6 L553.9 337.6 L554.95 334.92 L556 329.1 L557.05 332.29 L558.1 333.4 L559.15 333.07 L560.2 330.6 L561.3 334.69 L562.4 336.2 L563.45 333.09 L564.5 327.7 L565.55 330.87 L566.6 332 L568 331.88 L569.4 330.6 L570.55 328.96 L571.7 324.4 L572.75 331.01 L573.8 334.1 L574.9 341.22 L576 344.8 L577.15 342.18 L578.3 336.8 L579.45 341.34 L580.6 343.9 L581.65 344.45 L582.7 343 L584 343.06 L585.3 340.3 L586.45 344.34 L587.6 345.6 L588.7 349.83 L589.8 352.7 L591.1 350.44 L592.4 346.5 L593.75 351.5 L595.1 354.5 L596.15 356.98 L597.2 357.1 L598.8 357.81 L600.4 355.4 L601.45 359.22 L602.5 360.7 L603.9 358.18 L605.3 354.5 L606.35 360.03 L607.4 362.4 L608.75 363.48 L610.1 362.4 L611.25 361.39 L612.4 358 L613.65 361.02 L614.9 362.4 L616.8 370.6 L618.1 373.03 L619.4 373.3 L620.75 378.28 L622.1 381.2 L623.4 384.96 L624.7 385.7 L626.05 386.77 L627.4 386.5 L629.2 391.9 L630.9 397.2 L632.7 393.6 L634.1 385.7 L635.9 395.4 L636.95 397.98 L638 398.1 L639.35 399.71 L640.7 399.8 L641.85 400.37 L643 398.1 L644.7 410.4 L646.2 409.79 L647.7 408 L649.4 414.2 L651.2 422.1 L653 424.8 L654.15 423.04 L655.3 419.5 L656.35 424.87 L657.4 428.3 L659.2 433.6 L660.25 433.64 L661.3 431 L662.7 436.3 L664.1 426.5 L665.15 435.11 L666.2 442.5 L668 441.6 L669.35 447.57 L670.7 451.3 L672 455.65 L673.3 458.4 L674.65 458 L676 455.8 L677.15 459.59 L678.3 461.1 L679.35 465.05 L680.4 465.5 L681.45 466.65 L682.5 465.5" stroke="#D95319"/>
<path d="M441.9 519 L443.2 508.07 L444.5 495.4 L445.9 486.9 L447.3 474.2 L448.7 465.7 L450 457.8 L451.2 453.86 L452.4 446.7 L453.6 445.87 L454.8 443.5 L455.95 440.38 L457.1 435.6 L458.3 435.53 L459.5 434 L460.7 439.57 L461.9 443.5 L463.5 434.66 L465.1 422.9 L466.3 422.8 L467.5 421.3 L468.65 420.11 L469.8 416.5 L471 411.76 L472.2 405.4 L473.4 403.91 L474.6 400.6 L475.8 397.73 L477 392.7 L478.2 390.35 L479.4 384.8 L480.55 386.86 L481.7 386.3 L482.9 390.06 L484.1 392.7 L485.7 384.8 L486.9 383.29 L488.1 380 L489.1 384.1 L490.7 378.47 L492.3 371.4 L493.5 372.24 L494.7 369.8 L496.3 377.8 L497.5 375.36 L498.7 369.8 L500.25 366.21 L501.8 359.5 L503 363.03 L504.2 363.4 L505.8 366.6 L507.4 363.4 L508.6 363.33 L509.8 360.3 L511 358.84 L512.2 353.9 L513.4 353.04 L514.6 349.1 L515.85 354.81 L517.1 358.8 L518.15 354.06 L519.2 346.1 L520.3 345.15 L521.4 341.9 L522.45 346.89 L523.5 348.9 L524.55 348.75 L525.6 346.1 L526.65 350.03 L527.7 351.8 L528.75 352.05 L529.8 350.3 L531.3 356.7 L532.35 356.03 L533.4 353.2 L534.45 354.84 L535.5 354.6 L536.55 356.69 L537.6 357.4 L539.4 354.02 L541.2 347.5 L542.25 353.3 L543.3 356 L544.35 355.68 L545.4 351.8 L546.8 351.06 L548.2 347.5 L549.25 351.59 L550.3 353.2 L551.4 357.48 L552.5 358.8 L553.9 353.86 L555.3 347.5 L556.35 351.04 L557.4 351.8 L558.8 355.7 L560.2 357.4 L561.65 353.91 L563.1 348.9 L564.5 352.55 L565.9 354.6 L567.1 357.1 L568.25 355.65 L569.4 351.8 L570.55 350.46 L571.7 347.4 L573 361.6 L574.3 362.72 L575.6 361.6 L576.95 362.45 L578.3 360.7 L579.6 365.69 L580.9 368.6 L582.25 366.2 L583.6 362.4 L584.9 365.36 L586.2 366 L587.55 369.04 L588.9 370.4 L590.2 370.34 L591.5 368.6 L592.85 369.84 L594.2 369.5 L595.5 372.25 L596.8 373 L598.15 376.33 L599.5 378.4 L600.8 381.51 L602.1 381.9 L603.45 380.99 L604.8 376.6 L606.1 383.38 L607.4 388.1 L608.75 388.2 L610.1 385.4 L611.9 378.4 L613.2 385.42 L614.5 389 L615.8 390.59 L617.1 391 L618.25 390.82 L619.4 389.2 L621.2 397.2 L622.5 401.41 L623.8 402.5 L625.6 404.2 L626.95 408.5 L628.3 409.6 L630 413.1 L631.35 410 L632.7 404.2 L634.05 411.14 L635.4 416.6 L636.7 417.66 L638 416.6 L639.35 417.38 L640.7 414.9 L641.85 421.86 L643 425.5 L644.2 427.05 L645.4 425.5 L646.55 430.7 L647.7 434.3 L648.85 439.47 L650 441.4 L651.25 441.51 L652.5 439.6 L653.6 444.24 L654.7 446 L656.05 449.36 L657.4 451.3 L658.7 450.86 L660 446.9 L661.8 445.1 L662.7 453.1 L664.05 456.15 L665.4 456.6 L666.7 460.7 L668 461.9 L669.35 468.91 L670.7 474.3 L672 475.22 L673.3 473.5 L674.65 478.72 L676 481.4 L677.3 484.48 L678.6 485 L680.4 480.5 L681.45 481.49 L682.5 480.5" stroke="#EDB120"/>
<path d="M443.4 519 L444.45 505.77 L445.5 491.2 L447.1 486.03 L448.7 478 L449.75 470.86 L450.8 461 L452 461.12 L453.2 457.8 L454.4 457.88 L455.6 456.2 L456.75 455.46 L457.9 453 L459.5 443.5 L461.1 448.3 L462.3 448.96 L463.5 446.7 L464.7 442.52 L465.9 435.6 L467.1 432.52 L468.3 427.6 L469.8 426 L471 423.45 L472.2 418.1 L473.4 414.39 L474.6 408.6 L475.8 407.72 L477 403.8 L478.6 397.5 L479.8 398.94 L481 399 L482.15 403.02 L483.3 405.4 L484.5 400.73 L485.7 392.7 L487.3 392.89 L488.9 391.1 L489.9 393.7 L491.1 389.77 L492.3 384.1 L493.9 377.8 L495.1 380.95 L496.3 381 L497.5 383.09 L498.7 382.5 L499.9 376.88 L501.1 369.8 L502.25 370.23 L503.4 368.2 L505 373.58 L506.6 376.2 L508.2 372.95 L509.8 368.2 L511 373.56 L512.2 376.2 L513.8 370.5 L515.4 363.4 L516.6 363.56 L517.8 361.8 L519.2 363.1 L520.3 360.19 L521.4 356 L522.45 356.1 L523.5 354.6 L524.9 359.17 L526.3 360.2 L527.7 364.1 L529.1 365.9 L530.2 368.39 L531.3 367.3 L532.35 371.94 L533.4 374.4 L534.45 372.16 L535.5 367.3 L536.9 371.09 L538.3 371.6 L539.75 369.46 L541.2 364.5 L542.6 360.93 L544 356 L545.05 359.38 L546.1 360.2 L547.15 359.44 L548.2 356 L549.65 358.87 L551.1 360.2 L552.15 365.11 L553.2 368.7 L554.6 369.64 L556 367.3 L557.05 369.19 L558.1 368.7 L559.55 368.08 L561 365.9 L562.4 364.91 L563.8 361.7 L565.2 363.91 L566.6 364.5 L568 364.15 L569.4 360.7 L570.55 358.77 L571.7 354.5 L572.75 363.57 L573.8 371.3 L574.9 373.72 L576 373 L577.4 376.35 L578.8 378.4 L579.85 376.59 L580.9 373 L582.25 376.68 L583.6 379.2 L584.9 377.57 L586.2 373 L587.55 374.58 L588.9 374.8 L590.2 374.25 L591.5 371.3 L592.85 371.51 L594.2 370.4 L595.5 376.4 L596.8 380.1 L598.15 382.4 L599.5 381.9 L600.8 384.86 L602.1 385.4 L603.45 389.16 L604.8 390.7 L606.1 391 L607.4 389 L608.75 391.84 L610.1 392.5 L611.4 392.89 L612.7 390.7 L613.85 391.96 L615 391.9 L616.35 395.69 L617.7 397.2 L619 400.69 L620.3 402.5 L622.05 408.98 L623.8 412.2 L625.15 414.82 L626.5 414 L627.65 415.92 L628.8 416.6 L629.85 422.67 L630.9 427.3 L632.5 424.28 L634.1 418.4 L635.15 421.41 L636.2 421.9 L637.55 423.36 L638.9 423.7 L640.2 426.03 L641.5 425.5 L642.6 428.98 L643.7 429 L645.1 437.9 L646.4 439.47 L647.7 438.9 L649 443.43 L650.3 446 L651.65 449.91 L653 451.3 L654.7 446 L656.05 451.27 L657.4 453.1 L658.7 454.42 L660 454 L661.35 453.57 L662.7 451.3 L664.5 449.6 L665.8 455.68 L667.1 460.2 L668.45 466.83 L669.8 470.8 L671.5 479.6 L672.85 482.53 L674.2 483.2 L675.55 484.96 L676.9 485 L678.2 489.53 L679.5 492 L681 491.73 L682.5 490.3" stroke="#7E2F8E"/>
<path d="M443.4 517 L445 507.96 L446.6 495.4 L448.05 483.25 L449.5 470 L450.55 467.72 L451.6 462.5 L453.2 462.49 L454.8 461 L456.35 461.98 L457.9 459.4 L459.5 448.3 L460.7 449.61 L461.9 449.8 L463.1 448.3 L464.3 443.5 L465.9 441.3 L467.5 436.3 L468.65 436.77 L469.8 434 L471 431.8 L472.2 426 L473.4 422.09 L474.6 416.5 L475.8 415.87 L477 413.3 L478.2 410.78 L479.4 405.4 L480.55 406.29 L481.7 405.4 L483.3 411.7 L484.5 407.82 L485.7 402.2 L487.3 401.43 L488.9 399 L490.2 400.37 L491.5 398.5 L492.7 392.94 L493.9 384.1 L495.1 387.24 L496.3 387.3 L497.5 388.12 L498.7 387.3 L500.25 382.66 L501.8 374.6 L503.4 379.73 L505 382.5 L506.2 380.98 L507.4 377.8 L509 376.51 L510.6 373 L511.8 378.07 L513 381 L514.6 376.84 L516.2 371.4 L517.8 368.7 L518.85 371.4 L519.9 371.6 L521.4 363.1 L523.15 363.39 L524.9 361.7 L525.95 364.36 L527 364.5 L528.05 367.61 L529.1 367.3 L530.2 372.2 L531.3 374.4 L532.7 377.55 L534.1 378.6 L535.15 376.73 L536.2 371.6 L537.6 375.49 L539 375.8 L540.45 372.71 L541.9 367.3 L542.95 366.23 L544 361.7 L545.05 363.66 L546.1 364.5 L547.15 363.82 L548.2 361.7 L549.65 365.26 L551.1 367.3 L552.15 372.57 L553.2 374.4 L554.6 376.51 L556 375.8 L557.4 376.55 L558.8 374.4 L560.25 373.9 L561.7 371.6 L563.1 371.31 L564.5 368.7 L565.55 371.06 L566.6 370.1 L567.7 371.3 L568.85 367.52 L570 362.4 L571.7 358 L572.75 367.09 L573.8 374.8 L575.15 377.2 L576.5 378.4 L577.8 378.63 L579.1 376.6 L580.45 380.85 L581.8 381.9 L583.15 381.39 L584.5 378.4 L585.8 380.3 L587.1 380.1 L588.45 380.42 L589.8 378.4 L591.1 380.02 L592.4 380.1 L593.75 384.48 L595.1 385.4 L596.4 388.19 L597.7 389 L599.05 390.69 L600.4 390.7 L601.7 393.43 L603 394.3 L604.35 394.98 L605.7 392.5 L607 396.09 L608.3 397.8 L609.65 398.58 L611 396 L612.3 394.31 L613.6 390.7 L615.5 393.6 L616.6 398.25 L617.7 400.7 L619 404.43 L620.3 406.9 L621.65 416.08 L623 421.9 L624.5 424.79 L626 424.6 L627.15 425.29 L628.3 423.7 L629.45 429.29 L630.6 433.5 L631.65 431.56 L632.7 427.3 L634.05 428.31 L635.4 427.3 L636.7 429.75 L638 429 L639.35 431.61 L640.7 430.8 L642.2 432.27 L643.7 430.8 L645.4 445 L646.55 445.5 L647.7 444.2 L649 446.59 L650.3 447.8 L651.65 452.12 L653 453.1 L654.3 453.93 L655.6 451.3 L656.95 456.49 L658.3 460.2 L659.6 458.72 L660.9 454.9 L662.25 454.25 L663.6 451.3 L665.4 458.4 L666.7 464.62 L668 467.3 L669.35 472.29 L670.7 476.1 L672.4 485 L673.75 487.37 L675.1 488.5 L676.4 489.2 L677.7 486.7 L679.5 493.8 L681 494.16 L682.5 492" stroke="#77AC30"/>
<path d="M443.4 519 L444.5 503.9 L445.9 502.06 L447.3 497.09 L448.7 495.4 L450.13 488 L451.57 477.36 L453 470 L454.65 470.51 L456.3 468.9 L457.5 465.52 L458.7 459.4 L459.5 451.4 L461.1 454.6 L462.3 453.87 L463.5 451.4 L464.7 447.19 L465.9 440.3 L467.1 439.25 L468.3 437.1 L469.45 436.87 L470.6 434.8 L471.8 433.76 L473 430.8 L474.6 421.3 L475.8 417.22 L477 411.7 L478.2 413.18 L479.4 411.7 L480.55 413.43 L481.7 413.3 L482.7 419.63 L483.7 422.9 L484.7 417.49 L485.7 408.6 L486.9 407.86 L488.1 405.4 L489.9 404.8 L491.1 407.27 L492.3 406.4 L493.5 400.81 L494.7 392.1 L496.3 390.5 L497.5 395.88 L498.7 398.5 L500.25 391.07 L501.8 382.5 L503 387.62 L504.2 390.5 L505.4 391.03 L506.6 388.9 L507.8 385.86 L509 381 L510.2 384.17 L511.4 385.7 L513 377.8 L514.2 377.13 L515.4 374.6 L517.1 377.2 L518.55 376.67 L520 374.4 L521.4 371.6 L522.8 374.53 L524.2 374.4 L525.6 376.08 L527 375.8 L528.05 378.97 L529.1 380 L530.2 382.8 L531.3 382.9 L532.35 383.18 L533.4 380 L534.45 378.11 L535.5 374.4 L536.55 377.8 L537.6 380 L538.65 379.67 L539.7 375.8 L540.8 377.39 L541.9 375.8 L543.3 371.6 L544.35 375.94 L545.4 377.2 L546.8 376.3 L548.2 373 L549.65 375.94 L551.1 377.2 L552.15 381.48 L553.2 384.3 L554.6 381.67 L556 377.2 L557.4 377.62 L558.8 375.8 L560.25 378.52 L561.7 380 L562.75 376.47 L563.8 370.1 L565.2 377.26 L566.6 381.5 L568 377.81 L569.4 373 L570.55 371.95 L571.7 367.7 L572.75 375.06 L573.8 380.1 L574.9 385.35 L576 387.2 L577.15 385.69 L578.3 381.9 L579.45 385.19 L580.6 385.4 L581.65 385.66 L582.7 383.7 L584 387.66 L585.3 389 L586.65 389.27 L588 387.2 L589.3 389.52 L590.6 390.7 L591.95 389.67 L593.3 387.2 L594.6 391.58 L595.9 394.3 L597.25 396.2 L598.6 396 L599.95 396.16 L601.3 394.3 L602.6 398.17 L603.9 399.6 L605.25 400.07 L606.6 397.8 L607.9 400.59 L609.2 401.3 L610.55 400.49 L611.9 397.8 L613.2 402.53 L614.5 404.9 L616.1 409.84 L617.7 411.3 L619 415.48 L620.3 416.6 L621.65 422.87 L623 426.4 L624.3 426.62 L625.6 423.7 L626.95 424.53 L628.3 423.7 L629.45 428.82 L630.6 432.6 L631.65 431.91 L632.7 429.9 L634.05 431.49 L635.4 431.7 L636.7 433.55 L638 434.3 L639.35 437.43 L640.7 437.9 L641.85 440.45 L643 439.6 L644.7 453.8 L646.2 453.23 L647.7 451.3 L649 455.36 L650.3 456.6 L652.05 459.23 L653.8 458.4 L655.15 462.55 L656.5 463.7 L657.85 466.23 L659.2 467.3 L660.5 466.84 L661.8 463.7 L663.6 467.3 L664.9 471.66 L666.2 474.3 L667.55 476.86 L668.9 477.9 L670.7 483.2 L672 486.4 L673.3 488.5 L674.65 490.6 L676 490.3 L677.3 494.65 L678.6 495.6 L679.9 496.57 L681.2 495.47 L682.5 496.5" stroke="#4DBEEE"/>
</g>
<path d="M437.7 300.6 H682 V516.3 H437.7 Z" fill="none" stroke="#262626" stroke-width="1"/>
<path d="M472.6 516.3 v-3 M472.6 300.6 v3 M507.5 516.3 v-3 M507.5 300.6 v3 M542.4 516.3 v-3 M542.4 300.6 v3 M577.3 516.3 v-3 M577.3 300.6 v3 M612.2 516.3 v-3 M612.2 300.6 v3 M647.1 516.3 v-3 M647.1 300.6 v3 M437.7 503.61 h3 M682 503.61 h-3 M437.7 478.24 h3 M682 478.24 h-3 M437.7 452.86 h3 M682 452.86 h-3 M437.7 427.48 h3 M682 427.48 h-3 M437.7 402.11 h3 M682 402.11 h-3 M437.7 376.73 h3 M682 376.73 h-3 M437.7 351.35 h3 M682 351.35 h-3 M437.7 325.98 h3 M682 325.98 h-3" stroke="#262626" stroke-width="1" fill="none"/>
<text x="441.8" y="536" font-size="14.85" text-anchor="middle" fill="#000">8.65</text>
<text x="476.35" y="536" font-size="14.85" text-anchor="middle" fill="#000">8.7</text>
<text x="510.75" y="536" font-size="14.85" text-anchor="middle" fill="#000">8.75</text>
<text x="546.35" y="536" font-size="14.85" text-anchor="middle" fill="#000">8.8</text>
<text x="581.1" y="536" font-size="14.85" text-anchor="middle" fill="#000">8.85</text>
<text x="616.4" y="536" font-size="14.85" text-anchor="middle" fill="#000">8.9</text>
<text x="650.9" y="536" font-size="14.85" text-anchor="middle" fill="#000">8.95</text>
<text x="680.6" y="536" font-size="14.85" text-anchor="middle" fill="#000">9</text>
<text x="435.3" y="509.61" font-size="14.85" text-anchor="end" fill="#000">0.96</text>
<text x="435.3" y="484.24" font-size="14.85" text-anchor="end" fill="#000">0.98</text>
<text x="435.3" y="458.86" font-size="14.85" text-anchor="end" fill="#000">1</text>
<text x="435.3" y="433.48" font-size="14.85" text-anchor="end" fill="#000">1.02</text>
<text x="435.3" y="408.11" font-size="14.85" text-anchor="end" fill="#000">1.04</text>
<text x="435.3" y="382.73" font-size="14.85" text-anchor="end" fill="#000">1.06</text>
<text x="435.3" y="357.35" font-size="14.85" text-anchor="end" fill="#000">1.08</text>
<text x="435.3" y="331.98" font-size="14.85" text-anchor="end" fill="#000">1.1</text>
<text x="435.3" y="306.6" font-size="14.85" text-anchor="end" fill="#000">1.12</text>
<text x="559.7" y="561.4" font-size="14.85" text-anchor="middle" fill="#000">Time (s)</text>
<text x="0" y="0" font-size="14.85" text-anchor="middle" fill="#000" transform="translate(394.1 408.6) rotate(-90)">TORI tracking error (rad)</text>
<text x="376" y="305.4" font-size="17" text-anchor="start" font-weight="bold" fill="#000">(d)</text>
<text x="441.2" y="296.6" font-size="14.5">×10<tspan font-size="10.5" dy="-5.8">-3</tspan></text>
<rect x="264.8" y="283.1" width="89.80000000000001" height="138.7" fill="#fff" stroke="#262626" stroke-width="1"/>
<line x1="274.8" y1="295.5" x2="294.9" y2="295.5" stroke="#0072BD" stroke-width="1.6" stroke-linecap="round"/>
<text x="302" y="300.2" font-size="14.9" text-anchor="start" fill="#0072BD">Case 1</text>
<line x1="274.8" y1="318.04" x2="294.9" y2="318.04" stroke="#D95319" stroke-width="1.6" stroke-linecap="round"/>
<text x="302" y="322.74" font-size="14.9" text-anchor="start" fill="#D95319">Case 2</text>
<line x1="274.8" y1="340.58" x2="294.9" y2="340.58" stroke="#EDB120" stroke-width="1.6" stroke-linecap="round"/>
<text x="302" y="345.28" font-size="14.9" text-anchor="start" fill="#EDB120">Case 3</text>
<line x1="274.8" y1="363.12" x2="294.9" y2="363.12" stroke="#7E2F8E" stroke-width="1.6" stroke-linecap="round"/>
<text x="302" y="367.82" font-size="14.9" text-anchor="start" fill="#7E2F8E">Case 4</text>
<line x1="274.8" y1="385.66" x2="294.9" y2="385.66" stroke="#77AC30" stroke-width="1.6" stroke-linecap="round"/>
<text x="302" y="390.36" font-size="14.9" text-anchor="start" fill="#77AC30">Case 5</text>
<line x1="274.8" y1="408.2" x2="294.9" y2="408.2" stroke="#4DBEEE" stroke-width="1.6" stroke-linecap="round"/>
<text x="302" y="412.9" font-size="14.9" text-anchor="start" fill="#4DBEEE">Case 6</text>
</svg>
</body></html>
